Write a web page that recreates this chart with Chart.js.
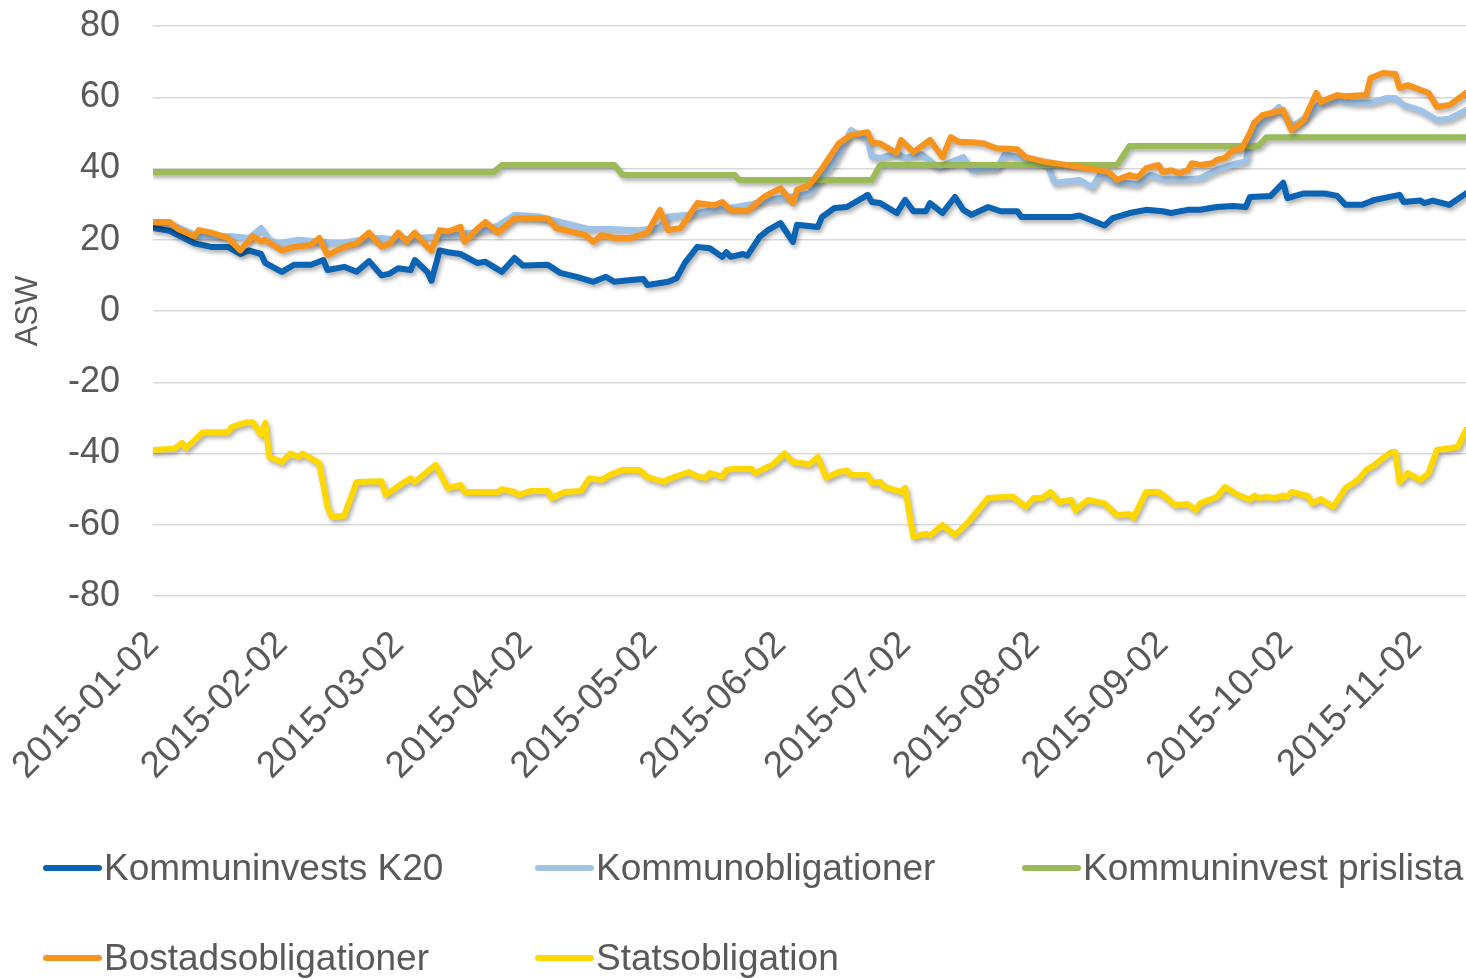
<!DOCTYPE html>
<html><head><meta charset="utf-8">
<script src="https://cdn.jsdelivr.net/npm/chart.js@4.4.0/dist/chart.umd.min.js"></script>
<style>
html,body{margin:0;padding:0;background:#fff;overflow:hidden;}
#wrap{position:relative;width:1466px;height:979px;}
canvas{position:absolute;left:0;top:0;}
.leg{position:absolute;height:40px;line-height:40px;font-family:"Liberation Sans",Arial,sans-serif;font-size:37px;color:#595959;white-space:nowrap;}
.leg .sw{position:absolute;left:0;top:17px;width:59px;height:6px;border-radius:3px;}
.leg .tx{position:absolute;left:61px;top:0;}
</style></head><body>
<div id="wrap"><canvas id="c" width="1466" height="979"></canvas><div id="legend"></div></div>
<script>
// x values are days since 2015-01-02
const tickDays = [0, 31, 59, 90, 120, 151, 181, 212, 243, 273, 304];
const tickLabels = ['2015-01-02','2015-02-02','2015-03-02','2015-04-02','2015-05-02','2015-06-02','2015-07-02','2015-08-02','2015-09-02','2015-10-02','2015-11-02'];
const seriesNames = ['Kommuninvests K20','Kommunobligationer','Kommuninvest prislista','Bostadsobligationer','Statsobligation'];

const k20Day = [0,4,6,10,14,18,21,23,26,27,31,34,38,41,42,46,49,52,55,57,59,62,63,66,67,69,71,74,78,80,84,87,89,95,98,102,106,109,111,115,118,119,124,126,128,131,134,137,138,139,142,143,146,148,151,154,155,160,161,164,167,172,173,175,179,181,183,186,187,190,193,195,197,201,204,208,209,216,221,223,229,231,232,235,239,243,245,249,252,256,260,263,264,269,272,273,277,282,285,287,291,294,300,301,305,306,308,312,316];
const k20Val = [23.3,22.5,21.3,19,18,18,16,17,16,13.5,11,13,13,14.3,11.5,12.4,11,14,10,10.5,12,11.5,14.3,11,8.5,17,16.5,16,13.5,13.8,11,14.9,12.8,13,10.7,9.6,8.2,9.6,8.2,8.7,9,7.3,8.2,9.2,13.5,18,17.6,15.2,16.5,15.2,16,15.5,20.8,22.7,24.7,19.4,24.2,23.6,26.4,28.9,29.2,32.6,30.6,30.3,27.5,31.2,28,28,30.3,27.5,32,28.4,27,29.2,28,28,26.4,26.4,26.4,26.8,24,26.1,26.4,27.5,28.4,28,27.5,28.4,28.4,29.2,29.5,29.2,32,32.3,36,31.7,33,33,32.3,29.8,29.8,31.2,32.6,30.6,31,30.3,31,29.8,33];

const kommDay = [0,4,7,10,11,19,23,26,28,30,35,40,45,50,55,59,64,69,74,79,83,87,93,98,105,110,117,122,124,129,135,139,144,147,153,158,160,164,168,172,173,175,179,181,185,189,195,197,203,205,209,215,217,223,226,228,231,232,237,240,243,249,252,256,261,263,264,266,271,274,277,281,285,289,293,297,299,301,305,309,312,316];
const kommVal = [25,24.5,23,21.5,21,21,20.5,23.3,20,19,20,19.5,19,20,20.5,20,20.5,21,21.5,22.5,24,27,26.5,25,23,23,22.7,23.5,26.5,27,28.5,29,30,31,32,33,36,42,50.8,48,43.2,43,44.3,43,44,40.4,43.2,39.6,40,44,43,41.7,36,36.8,34.8,38.5,36.5,36.2,35.6,38.2,37,37,37.3,39.6,41.5,42,48,52.2,57.3,51.7,54,58.4,59.2,58.5,58.5,59.8,59.8,57.8,56.4,53.6,54,56.4];

const prisDay = [0,82,84,111,113,140,141,173,175,232,235,266,268,316];
const prisVal = [39,39,41,41,38.2,38.2,36.8,36.8,41,41,46.3,46.3,48.8,48.8];

const bostDay = [0,4,6,10,11,14,18,21,24,26,27,31,34,38,40,42,46,49,52,55,57,59,61,63,66,67,69,71,74,75,78,80,83,87,91,95,97,104,106,108,111,115,119,122,124,127,131,135,137,139,143,147,151,154,155,158,161,165,168,172,173,175,179,180,183,187,190,192,194,197,200,203,208,210,215,217,223,225,230,232,235,237,239,242,243,245,247,249,250,252,255,256,258,260,262,264,265,267,272,274,277,280,281,285,287,292,293,296,299,300,302,307,309,312,316];
const bostVal = [25,25,23,21,22.7,22,20.5,17,21,19.5,20,17,18,18.5,20.5,15.7,18,19,22,18,19,22,19.5,22,18,17,22.7,22.3,23.6,19.4,23,25,22,26,26,26,23.3,21.3,19.4,21.3,20.5,20.5,22,28.4,22.7,23.3,30.3,29.7,30.6,28.4,28,32,34.5,30.3,34,35.4,40,47,49.4,50.2,47.4,47,44.3,48,44.6,48,43.2,48.8,47.5,47.4,47,45.7,45.4,43.2,41.8,41.5,40.4,40,39,36.8,38.2,37.5,40.1,41,39,39.5,38.7,39.5,41.5,41,41.5,42.4,43,45.2,45.5,50,52.8,55,56.4,50.8,53.6,61.2,58.7,60.6,60.3,60.6,65.4,66.8,66.5,62.6,63.4,61.2,57.3,57.8,61.2];

const statDay = [0,5,7,8,12,18,19,22,24,26,27,28,31,33,35,36,40,42,43,46,49,55,56,60,62,63,68,71,74,75,83,84,87,88,91,95,96,99,103,105,108,110,113,117,119,123,124,129,131,133,134,137,138,140,144,145,147,149,152,154,158,160,162,165,167,168,172,173,175,176,180,181,183,186,187,190,193,196,199,201,205,207,210,212,214,216,218,221,222,225,229,232,235,236,239,242,244,246,249,251,252,256,258,261,264,265,266,268,270,272,273,274,278,279,281,284,287,290,292,294,296,298,299,300,302,305,307,309,312,314,316];
const statVal = [-39,-38.7,-37,-38.5,-34,-34,-32.5,-31.4,-31.2,-34.8,-31.4,-41,-42.4,-40,-41,-40,-42.7,-55,-57.8,-57.5,-48,-47.8,-51.6,-48.4,-47,-48,-43.2,-49.7,-48.8,-50.8,-50.8,-50,-50.8,-51.6,-50.5,-50.5,-52.5,-50.8,-50.5,-47,-47.4,-46,-44.6,-44.6,-46.6,-48,-47.2,-45.2,-46.5,-46.8,-45.5,-46.5,-44.6,-44.3,-44.3,-45.5,-44.3,-43.2,-40,-42.4,-43,-41,-46.8,-45.2,-44.8,-46,-46,-48.3,-48,-49.4,-50.8,-49.7,-63.4,-62.5,-63,-60.1,-62.9,-59.5,-55.3,-52.5,-52.2,-52.2,-55,-52.5,-52.5,-50.8,-53.6,-53,-55.9,-53,-54,-57.3,-57,-58,-50.8,-50.8,-52.5,-54.5,-54.2,-55.9,-54,-52.2,-49.4,-51.6,-53,-51.8,-52.5,-52.2,-52.5,-51.8,-52.2,-50.8,-52,-54,-52.8,-55,-49.7,-47.4,-44.6,-43.2,-41.3,-39.6,-39.6,-48,-45.5,-47.5,-45.5,-39,-38.5,-38.2,-33.4];

const colors = ['#0b63b3','#9fc3e7','#9bbb59','#f7941e','#ffd800'];
const legendPos = [[43,848],[535,848],[1022,848],[43,938],[535,938]];

const pairs = [[k20Day,k20Val],[kommDay,kommVal],[prisDay,prisVal],[bostDay,bostVal],[statDay,statVal]];
const datasets = pairs.map((p,i)=>({
  label: seriesNames[i],
  data: p[0].map((d,j)=>({x:d, y:p[1][j]})),
  borderColor: colors[i],
  backgroundColor: colors[i],
  borderWidth: 6,
  pointRadius: 0,
  tension: 0,
  fill: false,
  borderJoinStyle: 'round',
  borderCapStyle: 'round',
  order: 5 - i
}));

const shadowPlugin = {
  id: 'lineShadow',
  beforeDatasetDraw(chart){ const c = chart.ctx; c.save(); c.shadowColor='rgba(0,0,0,0.32)'; c.shadowBlur=4; c.shadowOffsetX=2; c.shadowOffsetY=3; },
  afterDatasetDraw(chart){ chart.ctx.restore(); }
};

const FONT = '"Liberation Sans", Arial, sans-serif';
new Chart(document.getElementById('c'), {
  type: 'line',
  data: { datasets },
  plugins: [shadowPlugin],
  options: {
    responsive: false,
    devicePixelRatio: 1,
    animation: false,
    layout: { padding: { top: 26, right: 0, left: 0, bottom: 0 } },
    plugins: { legend: { display: false }, tooltip: { enabled: false } },
    scales: {
      x: {
        type: 'linear',
        min: 0, max: 316,
        afterFit(s){ s.height = 383; s.paddingLeft = 0; s.paddingRight = 0; },
        afterBuildTicks(s){ s.ticks = tickDays.map(v=>({value:v})); },
        grid: { display: false, drawTicks: false },
        border: { display: false },
        ticks: {
          autoSkip: false, minRotation: 45, maxRotation: 45, padding: 27,
          color: '#595959', font: { family: FONT, size: 37 },
          callback: (v, i) => tickLabels[i]
        }
      },
      y: {
        min: -80, max: 80,
        afterFit(s){ s.width = 153; s.paddingTop = 0; s.paddingBottom = 0; },
        grid: { color: '#d9d9d9', lineWidth: 1.5, drawTicks: false },
        border: { display: false },
        ticks: { stepSize: 20, padding: 33, color: '#595959', font: { family: FONT, size: 36 } },
        title: { display: true, text: 'ASW', color: '#595959', font: { family: FONT, size: 31 }, padding: { top: 10, bottom: 0 } }
      }
    }
  }
});

const leg = document.getElementById('legend');
seriesNames.forEach((n,i)=>{
  const d = document.createElement('div');
  d.className = 'leg';
  d.style.left = legendPos[i][0] + 'px';
  d.style.top = legendPos[i][1] + 'px';
  d.innerHTML = '<span class="sw" style="background:' + colors[i] + '"></span><span class="tx">' + n + '</span>';
  leg.appendChild(d);
});
</script>
</body></html>
